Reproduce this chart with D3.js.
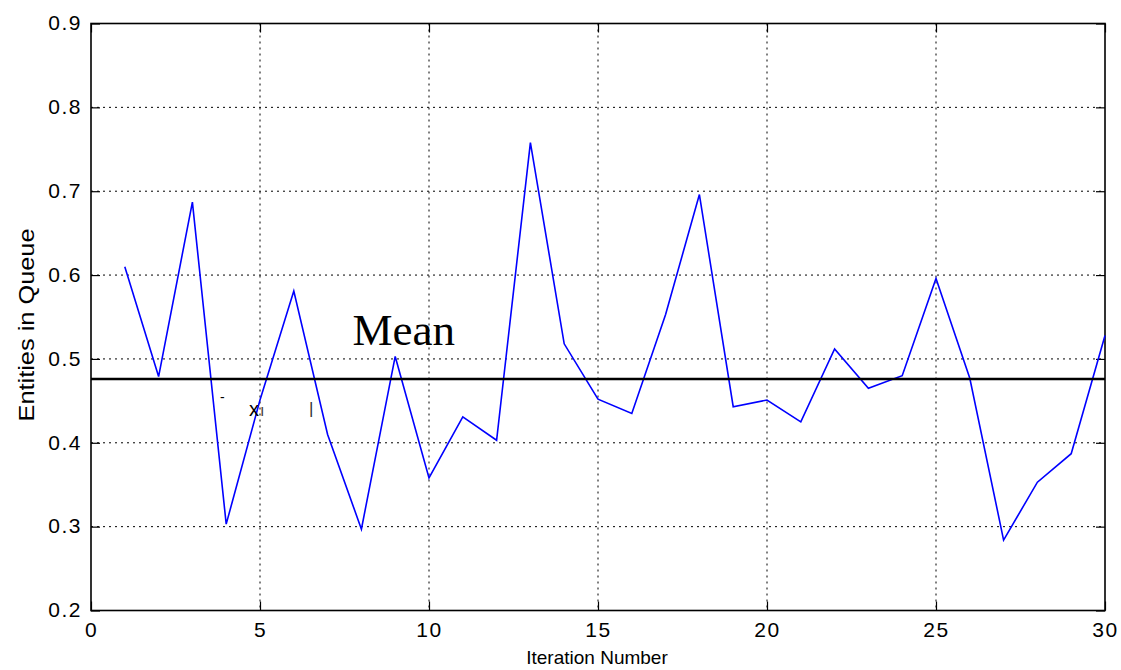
<!DOCTYPE html>
<html>
<head>
<meta charset="utf-8">
<script src="https://cdn.jsdelivr.net/npm/d3@7"></script>
<style>
  html, body { margin: 0; padding: 0; background: #fff; }
  svg { display: block; }
</style>
</head>
<body>
<svg id="chart" width="1121" height="670"></svg>
<script>
// ---- data ----
const iterations = [1,2,3,4,5,6,7,8,9,10,11,12,13,14,15,16,17,18,19,20,21,22,23,24,25,26,27,28,29,30];
const queueValues = [0.610,0.479,0.687,0.303,0.451,0.581,0.410,0.297,0.503,0.358,
                     0.431,0.403,0.758,0.518,0.452,0.435,0.553,0.696,0.443,0.451,
                     0.425,0.512,0.465,0.480,0.596,0.477,0.284,0.353,0.387,0.528];
const meanValue = [0.476];
const xTicks = [0,5,10,15,20,25,30];
const yTicks = [0.2,0.3,0.4,0.5,0.6,0.7,0.8,0.9];
const xTitle = "Iteration Number";
const yTitle = "Entities in Queue";
const meanLabel = "Mean";
const meanLabelPos = [7.74, 0.5166];

// ---- layout ----
const L = 91, R = 1105, T = 23.5, B = 610.5;
const svg = d3.select("#chart");
const x = d3.scaleLinear().domain([0,30]).range([L,R]);
const y = d3.scaleLinear().domain([0.2,0.9]).range([B,T]);

// grid
const grid = svg.append("g");
grid.selectAll("line.gx").data(xTicks.slice(1,-1)).enter().append("line")
  .attr("x1", d=>x(d)).attr("x2", d=>x(d)).attr("y1", T).attr("y2", B)
  .attr("stroke","#000").attr("stroke-width",1).attr("stroke-dasharray","2,4");
grid.selectAll("line.gy").data(yTicks.slice(1,-1)).enter().append("line")
  .attr("y1", d=>y(d)).attr("y2", d=>y(d)).attr("x1", L).attr("x2", R)
  .attr("stroke","#000").attr("stroke-width",1).attr("stroke-dasharray","2,4");

// axes with inward ticks (all four sides)
const tickLen = 9;
const axB = svg.append("g").attr("transform",`translate(0,${B})`)
  .call(d3.axisBottom(x).tickValues(xTicks).tickSizeInner(-tickLen).tickSizeOuter(0).tickPadding(12).tickFormat(d3.format("d")));
const axT = svg.append("g").attr("transform",`translate(0,${T})`)
  .call(d3.axisTop(x).tickValues(xTicks).tickSizeInner(-tickLen).tickSizeOuter(0).tickFormat(""));
const axL = svg.append("g").attr("transform",`translate(${L},0)`)
  .call(d3.axisLeft(y).tickValues(yTicks).tickSizeInner(-tickLen).tickSizeOuter(0).tickPadding(9).tickFormat(d3.format(".1f")));
const axR = svg.append("g").attr("transform",`translate(${R},0)`)
  .call(d3.axisRight(y).tickValues(yTicks).tickSizeInner(-tickLen).tickSizeOuter(0).tickFormat(""));
[axB,axT,axL,axR].forEach(a=>{
  a.select(".domain").remove();
  a.selectAll(".tick line").attr("stroke","#000").attr("stroke-width",1.2);
  a.selectAll("text").attr("fill","#000")
    .style("font-family","Arial, 'Liberation Sans', sans-serif")
    .style("font-size","21px").style("letter-spacing","1.5px");
});
axB.selectAll("text").attr("dy","0.71em");
axL.selectAll("text").attr("dy","0.3em");

// frame
svg.append("rect").attr("x",L).attr("y",T).attr("width",R-L).attr("height",B-T)
  .attr("fill","none").attr("stroke","#000").attr("stroke-width",1.6);

// data line
const line = d3.line().x((d,i)=>x(iterations[i])).y(d=>y(d));
svg.append("path").datum(queueValues).attr("d",line)
  .attr("fill","none").attr("stroke","#0000ff").attr("stroke-width",1.6).attr("stroke-linejoin","miter");

// mean line
svg.append("line").attr("x1",x(0)).attr("x2",x(30)).attr("y1",y(meanValue[0])).attr("y2",y(meanValue[0]))
  .attr("stroke","#000").attr("stroke-width",2.6);

// mean label
svg.append("text").attr("x",x(meanLabelPos[0])).attr("y",y(meanLabelPos[1]))
  .style("font-family","'Liberation Serif','Times New Roman',serif").style("font-size","45px")
  .attr("fill","#000").text(meanLabel);

// stray glyph fragments
const frag = svg.append("g").style("font-family","Arial, 'Liberation Sans', sans-serif").attr("fill","#000");
frag.append("text").attr("x",220).attr("y",402).style("font-size","14px").text("-");
frag.append("text").attr("x",249).attr("y",416).style("font-size","20px").text("x");
frag.append("text").attr("x",260).attr("y",416).style("font-size","16px").attr("fill","#444").text("ı");
frag.append("text").attr("x",309).attr("y",414).style("font-size","17px").attr("fill","#333").text("|");

// axis titles
svg.append("text").attr("x",(L+R)/2 - 1).attr("y",664).attr("text-anchor","middle")
  .style("font-family","Arial, 'Liberation Sans', sans-serif").style("font-size","19px")
  .attr("fill","#000").text(xTitle);
svg.append("text").attr("transform","translate(34,325) rotate(-90)").attr("text-anchor","middle")
  .style("font-family","Arial, 'Liberation Sans', sans-serif").style("font-size","22px")
  .attr("textLength",193).attr("lengthAdjust","spacingAndGlyphs")
  .attr("fill","#000").text(yTitle);
</script>
</body>
</html>
